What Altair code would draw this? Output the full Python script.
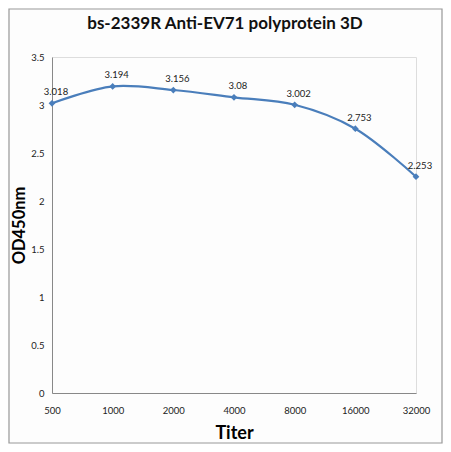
import altair as alt
import pandas as pd

titers = ["500", "1000", "2000", "4000", "8000", "16000", "32000"]
od_values = [3.018, 3.194, 3.156, 3.08, 3.002, 2.753, 2.253]
y_ticks = [0, 0.5, 1, 1.5, 2, 2.5, 3, 3.5]

df = pd.DataFrame({"Titer": titers, "OD": od_values})
df["label"] = [f"{v:g}" for v in od_values]

W, H = 364, 336
FONT = "Lato"
BLUE = "#4a7ebb"

x = alt.X("Titer:O", sort=titers,
          scale=alt.Scale(type="point", padding=0),
          axis=alt.Axis(title="Titer", labelAngle=0, ticks=False, labelPadding=12,
                        labelFontSize=9.5, labelColor="#222", titleFontSize=18,
                        titleFont=FONT, labelFont=FONT, titleFontWeight="bold",
                        titlePadding=10, domainColor="#888", grid=False))
y = alt.Y("OD:Q",
          scale=alt.Scale(domain=[0, 3.5], nice=False),
          axis=alt.Axis(title="OD450nm", values=y_ticks, format="~g", ticks=False,
                        labelPadding=8, labelFontSize=9.5, labelColor="#222",
                        titleFontSize=16.5, titleFont=FONT, labelFont=FONT,
                        titleFontWeight="bold", titlePadding=3, domainColor="#888",
                        grid=False))

base = alt.Chart(df)

line = base.mark_line(interpolate="catmull-rom", color=BLUE, strokeWidth=2.2).encode(x=x, y=y)
pts = base.mark_point(shape="diamond", filled=True, color=BLUE, size=45, opacity=1).encode(x=x, y=y)
txt = base.mark_text(dy=-11, dx=4, fontSize=9.5, font=FONT, color="#222").encode(x=x, y=y, text="label:N")

frame = alt.Chart(pd.DataFrame({"a": [0]})).mark_rect(
    fill=None, stroke="#999", strokeWidth=1.2, clip=False
).encode(x=alt.value(-43), x2=alt.value(390), y=alt.value(-48), y2=alt.value(386))

chart = alt.layer(frame, line, pts, txt).properties(
    width=W, height=H,
    title=alt.TitleParams("bs-2339R Anti-EV71 polyprotein 3D", font=FONT, fontSize=17,
                          fontWeight="bold", color="#111", offset=-25, dx=-9,
                          frame="group"),
    autosize=alt.AutoSizeParams(type="none"),
    padding={"left": 44, "top": 49, "right": 27, "bottom": 51},
).configure_view(stroke=None).configure(background="#fdfdfd")

chart.save("out.html", embed_options={"renderer": "svg", "actions": False})
